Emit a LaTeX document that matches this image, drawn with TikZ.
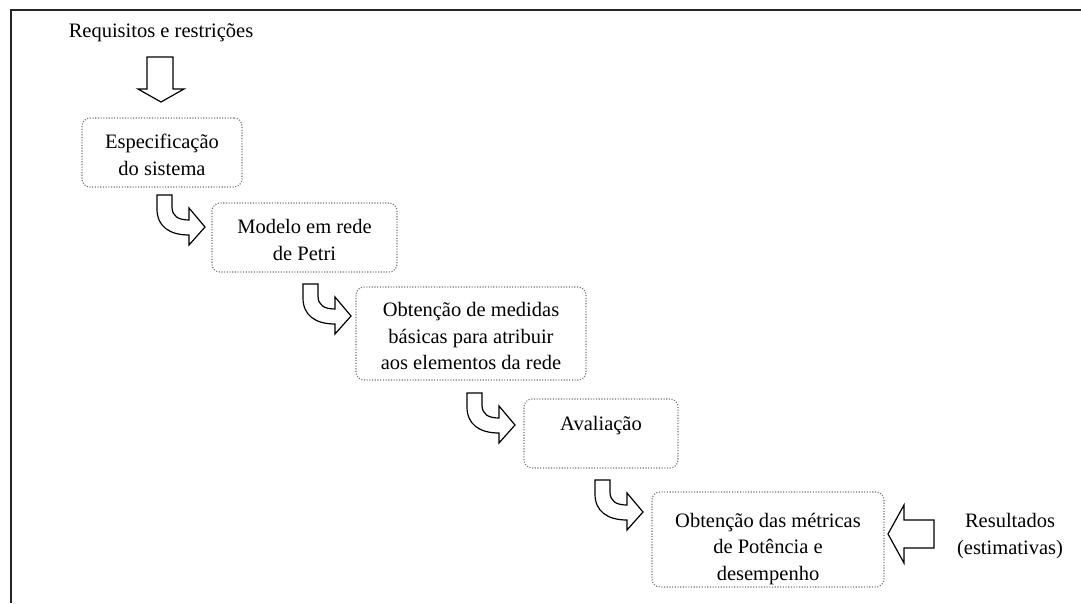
\documentclass[tikz,border=0pt]{standalone}
\usepackage{fontspec}
\setmainfont{Liberation Serif}
\tikzset{
  box/.style={draw=black!55, line width=1.1pt, dash pattern=on 1.1pt off 1.6pt, rounded corners=8pt, inner sep=0pt},
  lbl/.style={font=\fontsize{20.5}{26.5}\selectfont, align=center, inner sep=0pt},
  blk/.style={draw=black, line width=1.2pt, fill=white, line join=miter},
  bendarrow/.pic={
    \draw[blk] (0,0) -- (15,0) -- (15,12) .. controls (15,21) and (21,25) .. (32,25)
      -- (32,13) -- (48,32) -- (32,50) -- (32,40)
      .. controls (12,40) and (0,31) .. (0,14) -- cycle;
  }
}
\begin{document}
\begin{tikzpicture}[x=1pt,y=-1pt]
\useasboundingbox (0,0) rectangle (1081,603);
% frame
\draw[line width=2pt, black!85] (11,603) -- (11,10) -- (1081,10);

\node[lbl] (req) at (161,33) {Requisitos e restrições};
% down block arrow
\draw[blk] (147,57) -- (173,57) -- (173,89) -- (184,89) -- (161,102) -- (138,89) -- (147,89) -- cycle;

\node[box, minimum width=160pt, minimum height=69pt] (b1) at (162,152.5) {};
\node[lbl] (t1) at (162,155) {Especificação\\do sistema};

\node[box, minimum width=185pt, minimum height=69pt] (b2) at (304.5,237.5) {};
\node[lbl] (t2) at (304.5,240) {Modelo em rede\\de Petri};

\node[box, minimum width=230pt, minimum height=93pt] (b3) at (471,333.5) {};
\node[lbl] (t3) at (471,336) {Obtenção de medidas\\básicas para atribuir\\aos elementos da rede};

\node[box, minimum width=154pt, minimum height=69pt] (b4) at (601,433.5) {};
\node[lbl] (t4) at (601,426) {Avaliação};

\node[box, minimum width=232pt, minimum height=95pt] (b5) at (768,539.5) {};
\node[lbl] (t5) at (768,549) {Obtenção das métricas\\de Potência e\\desempenho};

\node[lbl] (res) at (1010,536) {Resultados\\(estimativas)};

% bent arrows
\pic at (157,195) {bendarrow};
\pic at (303,284) {bendarrow};
\pic at (467,393) {bendarrow};
\pic at (595,480) {bendarrow};

% left block arrow
\draw[blk] (934,520) -- (934,548) -- (904,548) -- (904,563) -- (888,534) -- (904,505) -- (904,520) -- cycle;
\end{tikzpicture}
\end{document}
